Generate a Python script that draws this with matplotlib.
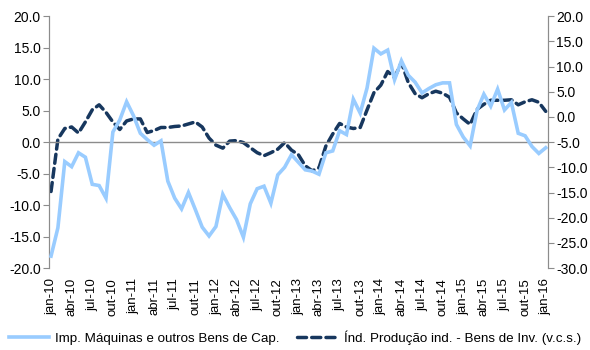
import matplotlib.pyplot as plt

plt.rcParams['font.family'] = ['Liberation Sans', 'DejaVu Sans']

# monthly series, jan-10 .. jan-16
anos = ['10', '11', '12', '13', '14', '15', '16']
meses = ['jan', 'fev', 'mar', 'abr', 'mai', 'jun', 'jul', 'ago', 'set', 'out', 'nov', 'dez']
periodos = [f'{m}-{a}' for a in anos for m in meses][:73]

imp_maquinas = [
    -18.1, -13.6, -3.1, -3.9, -1.7, -2.4, -6.7, -6.9, -8.9, 1.6, 3.5, 6.4,
    4.2, 1.4, 0.4, -0.5, 0.2, -6.2, -8.9, -10.6, -8.0, -10.7, -13.5, -14.9,
    -13.4, -8.3, -10.4, -12.3, -15.1, -9.8, -7.4, -7.0, -9.7, -5.2, -4.0, -2.0,
    -3.2, -4.4, -4.6, -5.1, -1.7, -1.4, 1.8, 1.2, 6.8, 4.6, 8.6, 14.9,
    14.0, 14.6, 9.9, 12.9, 10.6, 9.5, 7.8, 8.5, 9.1, 9.4, 9.4, 2.8,
    0.8, -0.6, 5.0, 7.6, 5.7, 8.4, 5.1, 6.3, 1.4, 1.0, -0.7, -1.8,
    -0.9,
]

prod_bens_inv = [
    -14.8, -4.4, -2.3, -2.0, -3.2, -1.0, 1.4, 2.4, 0.9, -1.0, -2.5, -0.8,
    -0.4, -0.4, -3.1, -2.7, -2.1, -2.1, -1.9, -1.8, -1.4, -1.0, -2.0, -4.2,
    -5.6, -6.2, -4.8, -4.7, -5.1, -6.1, -7.1, -7.7, -7.1, -6.4, -5.1, -6.6,
    -7.5, -9.7, -10.7, -10.1, -5.8, -3.4, -1.3, -2.0, -2.3, -2.1, 1.4, 4.8,
    6.3, 9.0, 7.8, 10.8, 6.8, 4.6, 3.8, 4.6, 5.1, 4.7, 3.9, 0.8,
    -0.4, -1.5, 1.5, 2.5, 3.3, 3.3, 3.3, 3.4, 2.4, 3.0, 3.4, 2.9,
    1.1,
]

left_ticks = [20, 15, 10, 5, 0, -5, -10, -15, -20]
right_ticks = [20, 15, 10, 5, 0, -5, -10, -15, -20, -25, -30]

cor_claro = '#99CCFF'
cor_escuro = '#17375E'
cor_eixo = '#8C8C8C'

fig = plt.figure(figsize=(5.9, 3.5), dpi=100)
ax = fig.add_axes([0.083, 0.234, 0.846, 0.72])
ax2 = ax.twinx()

x = list(range(len(periodos)))
l1, = ax.plot(x, imp_maquinas, color=cor_claro, lw=2.6, solid_joinstyle='miter',
              label='Imp. Máquinas e outros Bens de Cap.', zorder=3)
l2, = ax2.plot(x, prod_bens_inv, color=cor_escuro, lw=2.5, dashes=(2.6, 1.5),
               dash_capstyle='round', label='Índ. Produção ind. - Bens de Inv. (v.c.s.)')

ax.set_ylim(-20, 20)
ax2.set_ylim(-30, 20)
ax.set_xlim(-0.3, 72.35)
ax.set_yticks(left_ticks)
ax.set_yticklabels([f'{v:.1f}' for v in left_ticks])
ax2.set_yticks(right_ticks)
ax2.set_yticklabels([f'{v:.1f}' for v in right_ticks])

# zero line of the category axis
ax.axhline(0, color=cor_eixo, lw=1.0, zorder=1)

ax.set_xticks(x[::3])
ax.set_xticklabels(periodos[::3], rotation=90)
ax.tick_params(axis='x', length=0, pad=7, labelsize=9.5, colors='black')
ax.tick_params(axis='y', length=4, color=cor_eixo, labelsize=10, pad=2)
ax2.tick_params(axis='y', length=4, color=cor_eixo, labelsize=10, pad=2)

for a in (ax, ax2):
    a.spines['top'].set_visible(False)
    a.spines['bottom'].set_visible(False)
    a.spines['left'].set_color(cor_eixo)
    a.spines['right'].set_color(cor_eixo)
ax2.set_zorder(ax.get_zorder() - 1)
ax.patch.set_visible(False)

fig.legend([l1, l2], [l1.get_label(), l2.get_label()], loc='lower center',
           bbox_to_anchor=(0.5, -0.02), ncol=2, frameon=False, fontsize=9.6,
           handlelength=3.0, columnspacing=1.3, handletextpad=0.5)

fig.savefig('out.png', dpi=100)
